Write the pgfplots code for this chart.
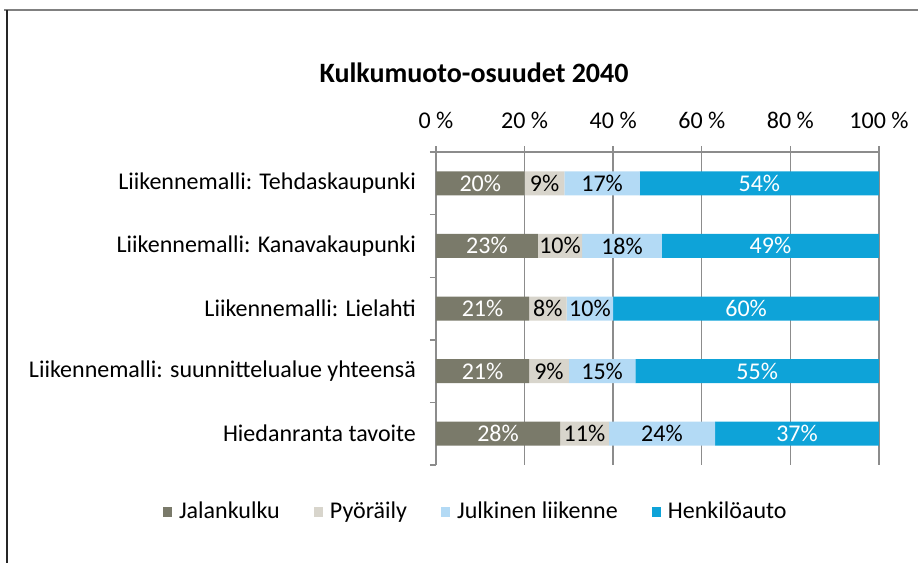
\documentclass[border=0pt]{standalone}
\usepackage{fontspec}
\setmainfont{Carlito}
\usepackage{pgfplots}
\pgfplotsset{compat=1.18}
\definecolor{cWalk}{HTML}{7A7A6A}
\definecolor{cBike}{HTML}{D8D5CC}
\definecolor{cPT}{HTML}{B3DAF5}
\definecolor{cCar}{HTML}{0EA3D8}
\definecolor{gridc}{HTML}{8C8C8C}
\begin{document}
\begin{tikzpicture}
\path[use as bounding box] (0pt,0pt) rectangle (459pt,-281.5pt);
\draw[color=black!50, line width=0.8pt] (2pt,-5pt) -- (459pt,-5pt);
\draw[color=black!85, line width=1pt] (3.5pt,-5pt) -- (3.5pt,-281.5pt);
\node[font=\fontsize{14}{16}\selectfont\bfseries] at (237pt,-36.5pt) {Kulkumuoto-osuudet 2040};
\pgfplotsset{chartbase/.style={
  at={(218pt,-76pt)}, anchor=north west,
  scale only axis, width=221.5pt, height=156.5pt,
  xmin=0, xmax=100, ymin=-0.5, ymax=4.5, y dir=reverse,
}}
\begin{axis}[chartbase,
  xbar stacked, bar width=12pt,
  axis x line=top, axis y line=left,
  axis line style={-, draw=gridc, line width=0.7pt},
  xtick={0,20,40,60,80,100},
  xticklabels={0 \%,20 \%,40 \%,60 \%,80 \%,100 \%},
  xticklabel style={yshift=5pt},
  xmajorgrids, grid style={draw=gridc, line width=0.7pt},
  ytick={-0.5,0.5,1.5,2.5,3.5,4.5},
  yticklabels={,,,,,},
  extra y ticks={0,1,2,3,4},
  extra y tick labels={Liikennemalli: Tehdaskaupunki,Liikennemalli: Kanavakaupunki,Liikennemalli: Lielahti,Liikennemalli: suunnittelualue yhteensä,Hiedanranta tavoite},
  extra y tick style={major tick length=0pt, yticklabel style={xshift=-6.5pt}},
  tick align=outside, major tick length=3pt,
  tick style={draw=gridc, line width=0.7pt},
  ticklabel style={font=\fontsize{12}{14}\selectfont},
  /pgf/number format/assume math mode=true,
  legend columns=4,
  legend style={draw=none, at={(axis description cs:0.092,-0.15)}, anchor=center,
    font=\fontsize{12}{14}\selectfont,
    /tikz/every odd column/.append style={column sep=1.5pt},
    /tikz/every even column/.append style={column sep=15pt}},
  legend image code/.code={\fill[#1] (0pt,-2.3pt) rectangle (4.6pt,2.3pt);},
]
\addplot[fill=cWalk, draw=none] coordinates {(20,0) (23,1) (21,2) (21,3) (28,4)};
\addplot[fill=cBike, draw=none] coordinates {(9,0) (10,1) (8.5,2) (9,3) (11,4)};
\addplot[fill=cPT, draw=none] coordinates {(17,0) (18,1) (10.5,2) (15,3) (24,4)};
\addplot[fill=cCar, draw=none] coordinates {(54,0) (49,1) (60,2) (55,3) (37,4)};
\legend{Jalankulku, Pyöräily, Julkinen liikenne, Henkilöauto}
\end{axis}
\begin{axis}[chartbase, hide axis, clip=false]
\addplot[draw=none, mark=none, nodes near coords={\pgfplotspointmeta\%}, point meta=explicit symbolic,
  every node near coord/.append style={anchor=center, text=white, font=\fontsize{12}{14}\selectfont}]
  coordinates {(10,0)[20] (11.5,1)[23] (10.5,2)[21] (10.5,3)[21] (14,4)[28]
               (73,0)[54] (75.5,1)[49] (70,2)[60] (72.5,3)[55] (81.5,4)[37]};
\addplot[draw=none, mark=none, nodes near coords={\pgfplotspointmeta\%}, point meta=explicit symbolic,
  every node near coord/.append style={anchor=center, text=black, font=\fontsize{12}{14}\selectfont}]
  coordinates {(24.5,0)[9] (28,1)[10] (25.25,2)[8] (25.5,3)[9] (33.5,4)[11]
               (37.5,0)[17] (42,1)[18] (34.75,2)[10] (37.5,3)[15] (51,4)[24]};
\end{axis}
\end{tikzpicture}
\end{document}
